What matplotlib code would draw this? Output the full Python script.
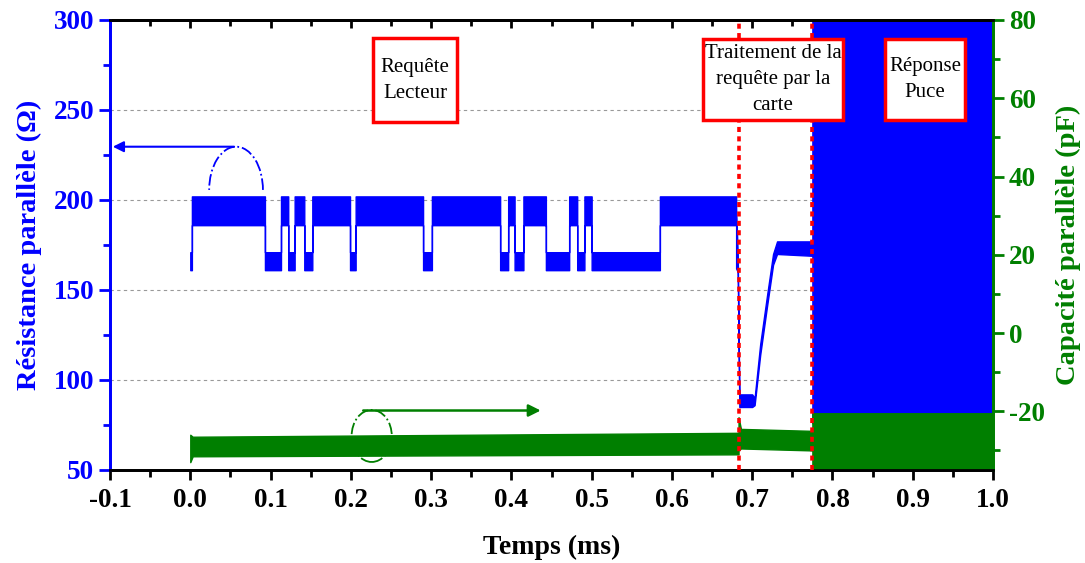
import matplotlib
matplotlib.use("Agg")
import matplotlib.pyplot as plt
import numpy as np
from matplotlib.patches import Arc, Ellipse, Rectangle
from matplotlib.ticker import MultipleLocator

plt.rcParams['font.family'] = ['Liberation Serif', 'DejaVu Serif']
plt.rcParams['axes.unicode_minus'] = False

BLUE = '#0000FF'
GREEN = '#007F00'

# resistance: reader request, alternating low/high levels (ms)
req_edges = [0.000, 0.002, 0.093, 0.113, 0.122, 0.130, 0.142, 0.152, 0.199, 0.206, 0.290, 0.301,
             0.386, 0.396, 0.404, 0.415, 0.443, 0.472, 0.482, 0.491, 0.500, 0.585, 0.680]
req_low_band = (161, 171)    # ohm
req_high_band = (186, 202)   # ohm

# resistance: card processing
proc_t = [0.680, 0.682, 0.684, 0.700, 0.703, 0.710, 0.7185, 0.726, 0.731, 0.775]
proc_lo = [162, 160, 85, 85, 86, 114, 141, 164, 170, 169]
proc_hi = [195, 170, 92, 92, 90, 120, 147, 170, 177, 177]

# resistance: chip answer (saturated)
resp_t = [0.775, 1.000]
resp_lo = [76, 76]
resp_hi = [300, 300]

# capacitance (pF)
cap_t = [0.000, 0.003, 0.683, 0.683, 0.686, 0.775, 0.775, 1.000]
cap_lo = [-33, -31.5, -31, -30, -29.5, -30, -35, -35]
cap_hi = [-26, -26.5, -25.5, -21.5, -24.5, -25, -20.5, -20.5]

phase_bounds = [0.683, 0.775]
phase_labels = ['Requête\nLecteur', 'Traitement de la\nrequête par la\ncarte', 'Réponse\nPuce']

# build resistance envelope
t_r, lo_r, hi_r = [], [], []
for i in range(len(req_edges) - 1):
    band = req_low_band if i % 2 == 0 else req_high_band
    t_r += [req_edges[i], req_edges[i + 1]]
    lo_r += [band[0], band[0]]
    hi_r += [band[1], band[1]]
t_r += proc_t + resp_t
lo_r += proc_lo + resp_lo
hi_r += proc_hi + resp_hi

fig = plt.figure(figsize=(10.85, 5.63), dpi=100)
ax1 = fig.add_axes([0.1014, 0.1652, 0.8138, 0.7993])
ax2 = ax1.twinx()

ax1.set_xlim(-0.1, 1.0)
ax1.set_ylim(50, 300)
ax2.set_ylim(-35, 80)

ax1.set_yticks([50, 100, 150, 200, 250, 300])
ax1.yaxis.set_minor_locator(MultipleLocator(25))
ax1.set_xticks(np.round(np.arange(-0.1, 1.01, 0.1), 1))
ax1.xaxis.set_minor_locator(MultipleLocator(0.05))
ax2.set_yticks([-20, 0, 20, 40, 60, 80])
ax2.yaxis.set_minor_locator(MultipleLocator(10))

for g in [100, 150, 200, 250]:
    ax1.axhline(g, color='#999999', ls=(0, (3, 3)), lw=0.8, zorder=0)

ax1.fill_between(t_r, lo_r, hi_r, color=BLUE, lw=1.0, edgecolor=BLUE, zorder=2)

# blue arrow to the left axis
ax1.add_patch(Arc((0.057, 205.6), 0.067, 48, theta1=0, theta2=180, color=BLUE,
                  lw=1.3, ls='-.', zorder=1))
ax1.annotate('', xy=(-0.1, 229.6), xytext=(0.058, 229.6),
             arrowprops=dict(arrowstyle='-|>', color=BLUE, lw=1.5, mutation_scale=16))

ax2.fill_between(cap_t, cap_lo, cap_hi, color=GREEN, lw=1.0, edgecolor=GREEN, zorder=2)
ax2.add_patch(Ellipse((0.226, -26.3), 0.05, 13.3, fill=False, color=GREEN,
                      lw=1.3, ls='-.', zorder=1))
ax2.annotate('', xy=(0.44, -19.8), xytext=(0.212, -19.8),
             arrowprops=dict(arrowstyle='-|>', color=GREEN, lw=1.8, mutation_scale=18))

for xb in phase_bounds:
    ax2.axvline(xb, color='#FF0000', lw=2.6, ls=(0, (1.4, 1.2)), zorder=5)

boxes = [(0.298, 0.773, 0.095, 0.187), (0.672, 0.778, 0.158, 0.180), (0.878, 0.778, 0.090, 0.180)]
for (bx, by, bw, bh), lab in zip(boxes, phase_labels):
    ax2.add_patch(Rectangle((bx, by), bw, bh, transform=ax2.transAxes, facecolor='white',
                            edgecolor='#FF0000', lw=2.5, zorder=6))
    ax2.text(bx + bw / 2, by + bh / 2, lab, transform=ax2.transAxes, ha='center',
             va='center', fontsize=15, linespacing=1.5, zorder=7)

# spines and ticks
for ax in (ax1, ax2):
    ax.spines['left'].set_color(BLUE)
    ax.spines['right'].set_color(GREEN)
    for s in ax.spines.values():
        s.set_linewidth(2)
    ax.spines['top'].set_color('black')
    ax.spines['bottom'].set_color('black')

ax1.tick_params(axis='x', which='both', direction='out', width=2, labelsize=19.5, pad=6)
ax1.tick_params(axis='x', which='major', length=7)
ax1.tick_params(axis='x', which='minor', length=5)
ax1.tick_params(axis='y', which='both', colors=BLUE, width=2, labelsize=19.5, direction='out')
ax1.tick_params(axis='y', which='major', length=8)
ax1.tick_params(axis='y', which='minor', length=5)
ax2.tick_params(axis='y', which='both', colors=GREEN, width=2, labelsize=19.5, direction='out')
ax2.tick_params(axis='y', which='major', length=8)
ax2.tick_params(axis='y', which='minor', length=5)

top = ax1.secondary_xaxis('top')
top.set_xticks(ax1.get_xticks())
top.xaxis.set_minor_locator(MultipleLocator(0.05))
top.tick_params(axis='x', which='both', direction='in', width=2, labeltop=False)
top.tick_params(axis='x', which='major', length=6)
top.tick_params(axis='x', which='minor', length=4)
top.spines['top'].set_linewidth(2)

ax1.set_xticklabels(['-0.1', '0.0', '0.1', '0.2', '0.3', '0.4', '0.5', '0.6', '0.7', '0.8', '0.9', '1.0'])
for lbl in ax1.get_xticklabels() + ax1.get_yticklabels() + ax2.get_yticklabels():
    lbl.set_fontweight('bold')

ax1.set_xlabel('Temps (ms)', fontsize=20, fontweight='bold', labelpad=16)
ax1.set_ylabel('Résistance parallèle (Ω)', fontsize=20.5, fontweight='bold', color=BLUE, labelpad=8)
ax2.set_ylabel('Capacité parallèle (pF)', fontsize=20.5, fontweight='bold', color=GREEN, labelpad=8)

fig.savefig('out.png', dpi=100)
